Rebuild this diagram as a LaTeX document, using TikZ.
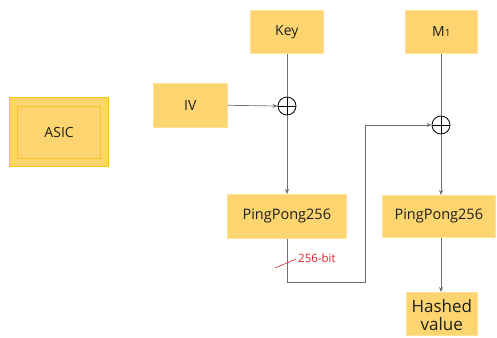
\documentclass[tikz,border=0pt]{standalone}
\usepackage{fontspec}
\setmainfont{Open Sans}
\usetikzlibrary{arrows.meta}
\definecolor{boxfill}{RGB}{252,213,112}
\definecolor{boxline}{RGB}{255,226,150}
\definecolor{asicline}{RGB}{250,195,30}
\definecolor{linegray}{RGB}{110,110,110}
\definecolor{redlbl}{RGB}{225,30,40}
\definecolor{txt}{RGB}{30,30,30}
\begin{document}
\begin{tikzpicture}[x=1pt,y=-1pt,
  blk/.style={draw=boxline,fill=boxfill,line width=0.6pt,inner sep=0pt,anchor=north west},
  lbltxt/.style={text=txt,font=\fontsize{14}{16}\selectfont,inner sep=0pt},
  xorop/.style={circle,draw=black,line width=0.8pt,minimum size=18pt,inner sep=0pt,
    path picture={\draw[black,line width=0.8pt] (path picture bounding box.north)--(path picture bounding box.south)
      (path picture bounding box.west)--(path picture bounding box.east);}},
  conn/.style={draw=linegray,line width=0.7pt},
  arr/.style={conn,-{Stealth[length=5pt,width=4pt]}}]
\useasboundingbox (0,0) rectangle (497,337);
% ASIC
\node[draw=asicline,fill=boxfill,line width=1.2pt,minimum width=99pt,minimum height=69pt,anchor=north west] (asico) at (9,97) {};
\node[draw=asicline,fill=boxfill,line width=1.2pt,minimum width=83pt,minimum height=52pt] (asic) at (asico.center) {};
\node[lbltxt] at (asic.center) {ASIC};
% boxes
\node[blk,minimum width=73pt,minimum height=43pt] (key) at (250,10) {};
\node[lbltxt] at (key.center) {Key};
\node[blk,minimum width=74pt,minimum height=44pt] (iv) at (153,83) {};
\node[lbltxt] at (iv.center) {IV};
\node[blk,minimum width=119pt,minimum height=44pt] (pp1) at (227,194) {};
\node[lbltxt,font=\fontsize{14.5}{16}\selectfont] at (pp1.center) {PingPong256};
\node[blk,minimum width=72pt,minimum height=43pt] (m1) at (405,10) {};
\node[lbltxt] at (m1.center) {M{\fontsize{10}{10}\selectfont 1}};
\node[blk,minimum width=113pt,minimum height=42pt] (pp2) at (382,195) {};
\node[lbltxt,font=\fontsize{14.5}{16}\selectfont] at (pp2.center) {PingPong256};
\node[blk,minimum width=71pt,minimum height=43pt] (hv) at (406,292) {};
\node[lbltxt,font=\fontsize{17}{18}\selectfont,align=center,text width=70pt] at ([yshift=-1pt]hv.center) {Hashed\\value};
% xors
\node[xorop] (x1) at (287,106) {};
\node[xorop] (x2) at (441,125) {};
% connectors
\draw[conn] (key.south -| x1) -- (x1.north);
\draw[arr] (iv.east) -- (x1.west);
\draw[arr] (x1.south) -- (x1 |- pp1.north);
\coordinate (c1) at (287,282);
\coordinate (c2) at (365,282);
\coordinate (c3) at (365,125);
\draw[arr] (pp1.south -| x1) -- (c1) -- (c2) -- (c3) -- (x2.west);
\draw[conn] (m1.south -| x2) -- (x2.north);
\draw[arr] (x2.south) -- (x2 |- pp2.north);
\draw[arr] (pp2.south -| x2) -- (x2 |- hv.north);
% 256-bit label
\coordinate (s1) at (275,268);
\coordinate (s2) at (296,259);
\draw[redlbl,line width=0.6pt] (s1) -- (s2);
\node[text=redlbl,font=\fontsize{11.5}{13}\selectfont,anchor=west,inner sep=0pt] (lbl) at (298,258) {256-bit};
\end{tikzpicture}
\end{document}
